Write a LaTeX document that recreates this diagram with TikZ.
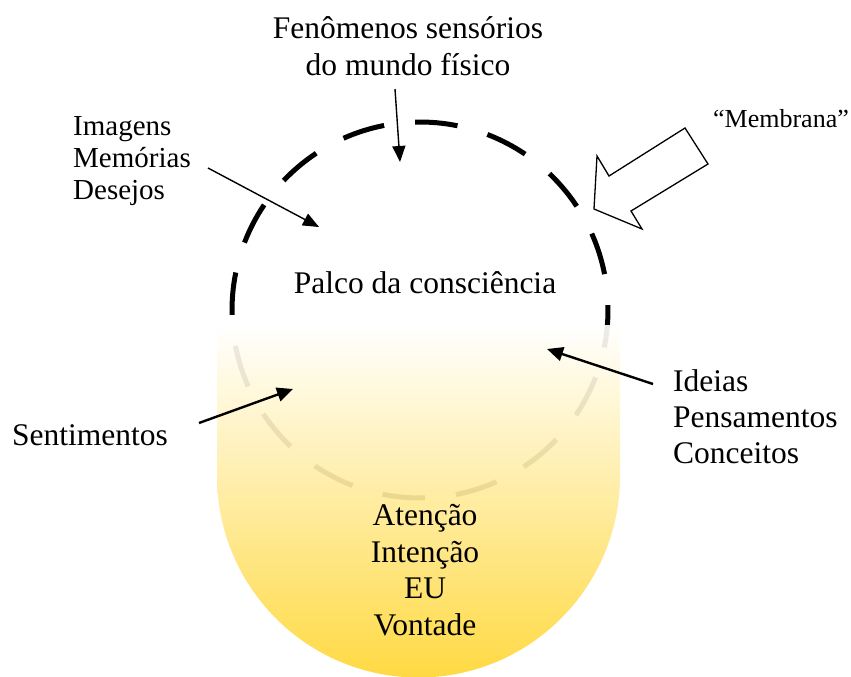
\documentclass[tikz,border=0pt]{standalone}
\usepackage{fontspec}
\setmainfont{Liberation Serif}
\usetikzlibrary{arrows.meta}
\definecolor{goldbottom}{RGB}{255,214,51}
\tikzset{
  lbl/.style={inner sep=0pt, font=\fontsize{31.5}{36.5}\selectfont},
  membdash/.style={line width=5pt, black},
  thinarrow/.style={line width=1.4pt, -{Triangle[length=16pt,width=13pt]}},
  thickarrow/.style={line width=2.4pt, -{Triangle[length=16pt,width=14pt]}},
  blockarrow/.style={draw=black, fill=white, line width=1.3pt, line join=miter},
}
\begin{document}
\begin{tikzpicture}[x=1pt,y=-1pt]
\useasboundingbox (0,0) rectangle (851,677);
% dashed circle
\coordinate (C) at (420,310);
\foreach \k in {0,...,15}{
  \pgfmathsetmacro{\a}{11+22.5*\k}
  \draw[membdash] (C) ++(-\a:188) arc[start angle=-\a, end angle={-\a-13}, radius=188];
}
% gradient bowl
\path[top color=white, bottom color=goldbottom, fill opacity=0.92]
  (217,325) -- (217,476) arc[start angle=180, end angle=0, radius=201.5] -- (620,325) -- cycle;
% texts (base anchor = baseline of last line)
\node[lbl, align=center, anchor=base, font=\fontsize{31.5}{37.5}\selectfont] (fen) at (408,76) {Fenômenos sensórios\\do mundo físico};
\node[lbl, align=left, anchor=base west, font=\fontsize{29}{32}\selectfont] (img) at (73,199) {Imagens\\Memórias\\Desejos};
\node[lbl, anchor=base] (palco) at (425,293) {Palco da consciência};
\node[lbl, anchor=base west] (sent) at (12,445) {Sentimentos};
\node[lbl, align=left, anchor=base west, font=\fontsize{31.5}{36}\selectfont] (ideias) at (673,463) {Ideias\\Pensamentos\\Conceitos};
\node[lbl, align=center, anchor=base] (eu) at (425,635) {Atenção\\Intenção\\EU\\Vontade};
\node[lbl, anchor=base, font=\fontsize{26}{30}\selectfont] (memb) at (781,127) {“Membrana”};
% block arrow
\draw[blockarrow] (685,128) -- (708,164) -- (631,211) -- (642,229) -- (594,209) -- (597,156) -- (609,176) -- cycle;
% connectors
\coordinate (fenS) at (395,89);
\coordinate (fenE) at (400,162);
\coordinate (imgS) at (208,168);
\coordinate (imgE) at (319,227);
\coordinate (sentS) at (199,423);
\coordinate (sentE) at (293,389);
\coordinate (ideiasS) at (653,384);
\coordinate (ideiasE) at (547,349);
\draw[thinarrow] (fenS) -- (fenE);
\draw[thinarrow] (imgS) -- (imgE);
\draw[thickarrow] (sentS) -- (sentE);
\draw[thickarrow] (ideiasS) -- (ideiasE);
\end{tikzpicture}
\end{document}
